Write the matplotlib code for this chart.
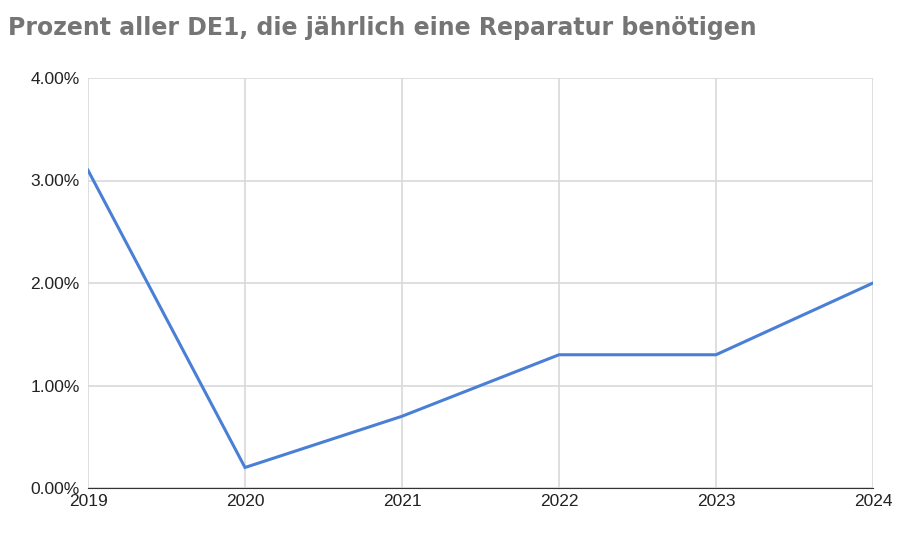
import matplotlib.pyplot as plt
from matplotlib.ticker import FuncFormatter

years = [2019, 2020, 2021, 2022, 2023, 2024]
percent = [3.1, 0.2, 0.7, 1.3, 1.3, 2.0]
y_ticks = [0, 1, 2, 3, 4]

plt.rcParams['font.family'] = ['Liberation Sans', 'DejaVu Sans']

fig = plt.figure(figsize=(9, 5.46), dpi=100)
ax = fig.add_axes([88 / 900, 58 / 546, 785 / 900, 410 / 546])

ax.plot(years, percent, color='#4a7fd6', linewidth=2.2, solid_joinstyle='miter')

ax.set_xlim(2019, 2024)
ax.set_ylim(0, 4)
ax.set_xticks(years)
ax.set_yticks(y_ticks)
ax.yaxis.set_major_formatter(FuncFormatter(lambda v, p: f'{v:.2f}%'))
ax.grid(True, color='#d9d9d9', linewidth=1.2)
ax.set_axisbelow(True)
for s in ['top', 'right', 'left']:
    ax.spines[s].set_visible(False)
ax.spines['bottom'].set_color('#333333')
ax.tick_params(length=0, labelsize=12.5, colors='#222222', pad=6)
ax.tick_params(axis='x', pad=4)

fig.text(8 / 900, 1 - 28 / 546, 'Prozent aller DE1, die jährlich eine Reparatur benötigen',
         fontsize=17, fontweight='bold', color='#757575', va='center', ha='left',
         family='DejaVu Sans')

fig.savefig('out.png', dpi=100, facecolor='white')
